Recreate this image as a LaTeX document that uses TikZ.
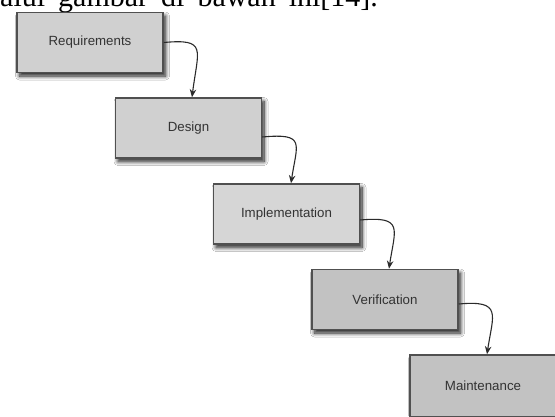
\documentclass[tikz,border=0pt]{standalone}
\usepackage{fontspec}
\setmainfont{Liberation Sans}
\newfontfamily\serifface{Liberation Serif}
\usetikzlibrary{shadows.blur,arrows.meta}
\definecolor{boxlight}{HTML}{D0D0D0}
\definecolor{boxmid}{HTML}{D6D6D6}
\definecolor{boxdark}{HTML}{C2C2C2}
\definecolor{boxline}{HTML}{505050}
\definecolor{arrowcol}{HTML}{2A2A2A}
\definecolor{txtcol}{HTML}{333333}
\tikzset{
  phasebox/.style={draw=boxline, line width=1.5pt, fill=boxlight,
    minimum width=146pt, minimum height=60pt, inner sep=0pt,
    font=\fontsize{13.3}{15}\selectfont, text=txtcol,
    blur shadow={shadow xshift=2.5pt, shadow yshift=-3.5pt, shadow blur radius=4pt, shadow blur steps=10, shadow opacity=90}},
  flowarrow/.style={draw=arrowcol, line width=1.1pt, -{Stealth[length=8pt,width=6.5pt]}}
}
\begin{document}
\begin{tikzpicture}[x=1pt,y=-1pt]
\useasboundingbox (0,0) rectangle (555,416);
\fill[white] (0,0) rectangle (555,416);
\clip (0,0) rectangle (555,416);
\node[anchor=base west, inner sep=0pt, font=\serifface\fontsize{30}{32}\selectfont] (caption) at (0,6) {\spaceskip 13pt\relax alui gambar di bawah ini[14].};
\node[phasebox] (req) at (90,42.5) {Requirements};
\node[phasebox] (des) at (188.5,128) {Design};
\node[phasebox, fill=boxmid] (imp) at (286.5,214) {Implementation};
\node[phasebox, fill=boxdark] (ver) at (385,299.5) {Verification};
\node[phasebox, fill=boxdark, minimum height=62pt] (mai) at (483,386) {Maintenance};
\draw[flowarrow] ([yshift=0pt]req.east) .. controls +(44,-4) and +(6,-48) .. ([xshift=3.5pt]des.north);
\draw[flowarrow] ([yshift=-9pt]des.east) .. controls +(44,-4) and +(6,-40) .. ([xshift=4.5pt]imp.north);
\draw[flowarrow] ([yshift=-6pt]imp.east) .. controls +(44,-4) and +(6,-40) .. ([xshift=4pt]ver.north);
\draw[flowarrow] ([yshift=-4.5pt]ver.east) .. controls +(44,-4) and +(6,-40) .. ([xshift=4pt]mai.north);
\end{tikzpicture}
\end{document}
